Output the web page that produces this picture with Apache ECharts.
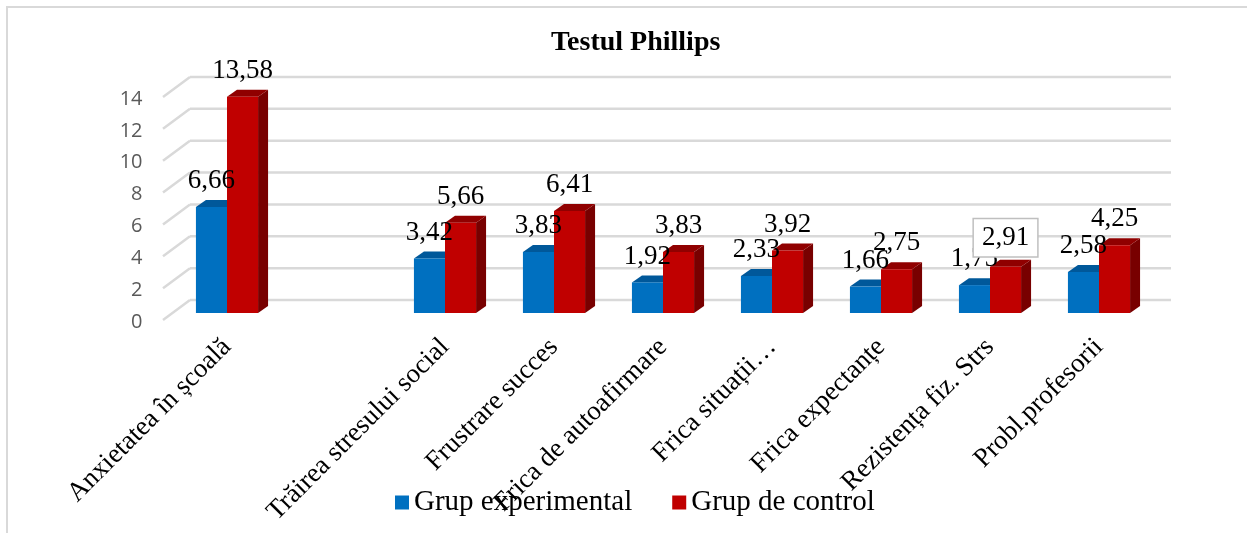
<!DOCTYPE html>
<html lang="ro">
<head>
<meta charset="UTF-8">
<title>Testul Phillips</title>
<script src="https://cdn.jsdelivr.net/npm/echarts@6/dist/echarts.min.js"></script>
<style>
  html, body { margin: 0; padding: 0; background: #fff; }
  #chart { width: 1247px; height: 533px; }
</style>
</head>
<body>
<div id="chart"></div>
<script>
// date (al doilea slot e gol in original)
var categories = ['Anxietatea în școală', '', 'Trăirea stresului social', 'Frustrare succes',
  'Frica de autoafirmare', 'Frica situații…', 'Frica expectanțe', 'Rezistența fiz. Strs', 'Probl.profesorii'];
var grupExperimental = [6.66, '-', 3.42, 3.83, 1.92, 2.33, 1.66, 1.75, 2.58];
var grupControl = [13.58, '-', 5.66, 6.41, 3.83, 3.92, 2.75, 2.91, 4.25];
var yTicks = [0, 2, 4, 6, 8, 10, 12, 14];
var boxedCategory = 'Rezistența fiz. Strs';

var SERIF = '"Liberation Serif", "Times New Roman", serif';
var BAR_RATIO = 0.285;   // latimea unei bare din banda categoriei
var DEPTH_X = 10, DEPTH_Y = -7;   // adancimea barelor 3D
var BACK_X = 17.5, BACK_Y = -13;  // peretele din spate fata de bare
var FRONT_X = -9.5, FRONT_Y = 7;  // muchia din fata

function fmt(v) { return String(v.toFixed(2)).replace('.', ','); }

function barRenderer(side, colors, labelZ) {
  return function (params, api) {
    var v = api.value(1);
    if (isNaN(v)) return null;
    var idx = api.value(0);
    var top = api.coord([idx, v]);
    var base = api.coord([idx, 0]);
    var bw = api.size([1, 0])[0] * BAR_RATIO;
    var x0 = top[0] + side * bw, x1 = x0 + bw;
    var ty = top[1], by = base[1];
    var boxed = side === 0 && categories[params.dataIndex] === boxedCategory;
    return {
      type: 'group',
      children: [
        { type: 'polygon', shape: { points: [[x1, ty], [x1 + DEPTH_X, ty + DEPTH_Y], [x1 + DEPTH_X, by + DEPTH_Y], [x1, by]] },
          style: { fill: colors.side } },
        { type: 'polygon', shape: { points: [[x0, ty], [x1, ty], [x1 + DEPTH_X, ty + DEPTH_Y], [x0 + DEPTH_X, ty + DEPTH_Y]] },
          style: { fill: colors.top } },
        { type: 'rect', shape: { x: x0, y: ty, width: bw, height: by - ty },
          style: { fill: colors.front } },
        { type: 'text', z2: labelZ, x: x0 + bw / 2, y: ty - (boxed ? 29 : 26),
          style: {
            text: fmt(v), fill: '#000', font: '27px ' + SERIF,
            align: 'center', verticalAlign: 'middle',
            backgroundColor: boxed ? '#fff' : null,
            borderColor: boxed ? '#bfbfbf' : null,
            borderWidth: boxed ? 1.5 : 0,
            padding: boxed ? [5, 8] : 0
          } }
      ]
    };
  };
}

var chart = echarts.init(document.getElementById('chart'));
chart.setOption({
  animation: false,
  title: {
    text: 'Testul Phillips', left: 546, top: 24,
    textStyle: { fontFamily: SERIF, fontWeight: 'bold', fontSize: 28, color: '#000' }
  },
  legend: {
    data: ['Grup experimental', 'Grup de control'],
    left: 390, top: 483, icon: 'rect', itemWidth: 14, itemHeight: 14, itemGap: 40,
    textStyle: { fontFamily: SERIF, fontSize: 29, color: '#000' },
    z: 10
  },
  graphic: [{
    type: 'rect', z: -1, silent: true,
    shape: { x: 7, y: 7, width: 1300, height: 600 },
    style: { fill: null, stroke: '#d9d9d9', lineWidth: 2 }
  }],
  grid: { left: 172.5, right: 93.5, top: 90, bottom: 220, outerBoundsMode: 'none' },
  xAxis: {
    type: 'category', data: categories,
    axisLine: { show: false }, axisTick: { show: false }, splitLine: { show: false },
    axisLabel: { interval: 0, rotate: 45, margin: 30, fontFamily: SERIF, fontSize: 27, color: '#000' }
  },
  yAxis: {
    type: 'value', min: 0, max: 14, interval: 2,
    axisLine: { show: false }, axisTick: { show: false }, splitLine: { show: false },
    axisLabel: { margin: 30, verticalAlign: 'top', lineHeight: 18, fontFamily: '"Open Sans", sans-serif', fontSize: 20, color: '#595959' }
  },
  series: [
    {
      name: 'grid3d', type: 'custom', z: 1, silent: true,
      data: yTicks.map(function (t) { return [0, t]; }),
      renderItem: function (params, api) {
        var p = api.coord([0, api.value(1)]);
        var cs = params.coordSys, y = p[1];
        var st = { stroke: '#d9d9d9', lineWidth: 2.5 };
        return {
          type: 'group',
          children: [
            { type: 'line', shape: { x1: cs.x + BACK_X, y1: y + BACK_Y, x2: cs.x + cs.width + BACK_X, y2: y + BACK_Y }, style: st },
            { type: 'line', shape: { x1: cs.x + FRONT_X, y1: y + FRONT_Y, x2: cs.x + BACK_X, y2: y + BACK_Y }, style: st }
          ]
        };
      }
    },
    {
      name: 'Grup experimental', type: 'custom', z: 2,
      itemStyle: { color: '#0070C0' },
      data: grupExperimental.map(function (v, i) { return [i, v]; }),
      renderItem: barRenderer(-1, { front: '#0070C0', top: '#00589A', side: '#004A80' }, 100)
    },
    {
      name: 'Grup de control', type: 'custom', z: 2,
      itemStyle: { color: '#C00000' },
      data: grupControl.map(function (v, i) { return [i, v]; }),
      renderItem: barRenderer(0, { front: '#C00000', top: '#900000', side: '#780000' }, 101)
    }
  ]
});
</script>
</body>
</html>
